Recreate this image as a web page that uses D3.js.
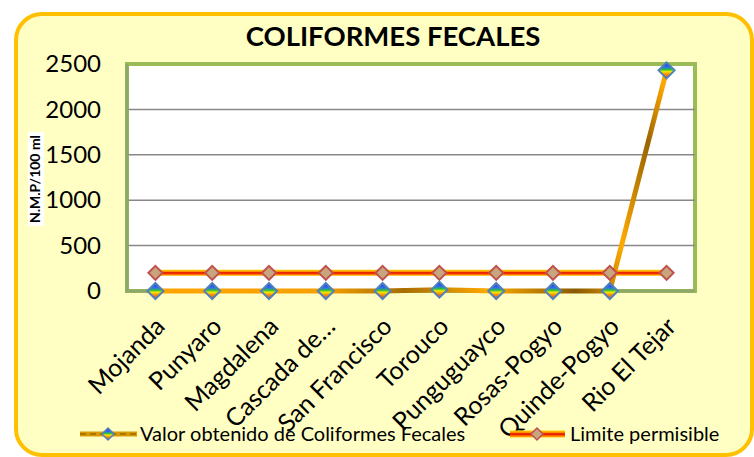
<!DOCTYPE html>
<html>
<head>
<meta charset="utf-8">
<script src="https://cdn.jsdelivr.net/npm/d3@7"></script>
<style>
  body { margin: 0; background: #fff; }
  text { font-family: Lato, "Open Sans", sans-serif; }
</style>
</head>
<body>
<svg id="chart" width="754" height="457"></svg>
<script>
// chart data
const stations = ["Mojanda", "Punyaro", "Magdalena", "Cascada de…", "San Francisco",
  "Torouco", "Punguguayco", "Rosas-Pogyo", "Quinde-Pogyo", "Rio El Tejar"];
const obtained = [0, 0, 0, 0, 0, 15, 0, 0, 0, 2430];
const limit = [200, 200, 200, 200, 200, 200, 200, 200, 200, 200];
const yTicks = [0, 500, 1000, 1500, 2000, 2500];
const seriesNames = ["Valor obtenido de Coliformes Fecales", "Limite permisible"];

const svg = d3.select("#chart");
const defs = svg.append("defs");

// plot area bounds
const plot = { left: 127, top: 64, right: 695, bottom: 291 };

// gradients
const rainbow = defs.append("linearGradient").attr("id", "rainbow")
  .attr("x1", 0).attr("y1", 0).attr("x2", 0).attr("y2", 1);
[["0%", "#2b2bd8"], ["30%", "#2f6df0"], ["45%", "#27c03a"], ["58%", "#f5e800"], ["72%", "#ff9a00"], ["100%", "#e8302a"]]
  .forEach(s => rainbow.append("stop").attr("offset", s[0]).attr("stop-color", s[1]));

const gold = defs.append("linearGradient").attr("id", "gold")
  .attr("gradientUnits", "userSpaceOnUse")
  .attr("x1", 127).attr("y1", 291).attr("x2", 695).attr("y2", 64);
[["0%", "#ffa500"], ["30%", "#f5a000"], ["42%", "#a86d00"], ["55%", "#ffaa00"], ["68%", "#8a5a00"], ["78%", "#ffaa00"], ["88%", "#9a6400"], ["94%", "#ffa800"], ["100%", "#a06a00"]]
  .forEach(s => gold.append("stop").attr("offset", s[0]).attr("stop-color", s[1]));

// chart background
svg.append("rect")
  .attr("x", 16).attr("y", 14).attr("width", 736).attr("height", 441)
  .attr("rx", 26).attr("ry", 26)
  .attr("fill", "#ffffc4").attr("stroke", "#ffc000").attr("stroke-width", 4);

// scales
const x = d3.scaleBand().domain(stations).range([plot.left, plot.right]);
const y = d3.scaleLinear().domain([0, 2500]).range([plot.bottom, plot.top]);

const redStripe = defs.append("linearGradient").attr("id", "redStripe")
  .attr("gradientUnits", "userSpaceOnUse")
  .attr("x1", 0).attr("y1", y(200) - 3.5).attr("x2", 0).attr("y2", y(200) + 3.5);
[["0%", "#ffe000"], ["30%", "#ff9900"], ["50%", "#e00000"], ["70%", "#ff6600"], ["100%", "#ffe000"]]
  .forEach(s => redStripe.append("stop").attr("offset", s[0]).attr("stop-color", s[1]));

const legRed = defs.append("linearGradient").attr("id", "legRed")
  .attr("gradientUnits", "userSpaceOnUse")
  .attr("x1", 0).attr("y1", 430).attr("x2", 0).attr("y2", 438);
[["0%", "#ffe000"], ["30%", "#ff9900"], ["50%", "#e00000"], ["70%", "#ff6600"], ["100%", "#ffe000"]]
  .forEach(s => legRed.append("stop").attr("offset", s[0]).attr("stop-color", s[1]));

// plot area
svg.append("rect")
  .attr("x", plot.left).attr("y", plot.top)
  .attr("width", plot.right - plot.left).attr("height", plot.bottom - plot.top)
  .attr("fill", "#fff").attr("stroke", "#9bbb59").attr("stroke-width", 4);

// gridlines
svg.append("g").selectAll("line")
  .data(yTicks.filter(d => d > 0 && d < 2500))
  .enter().append("line")
  .attr("x1", plot.left).attr("x2", plot.right)
  .attr("y1", d => y(d)).attr("y2", d => y(d))
  .attr("stroke", "#888").attr("stroke-width", 1.5);

// axis lines (left + bottom)
svg.append("path")
  .attr("d", `M${plot.left},${plot.top} V${plot.bottom} H${plot.right}`)
  .attr("fill", "none").attr("stroke", "#8ea86a").attr("stroke-width", 3);

// y axis
const yAxis = svg.append("g")
  .attr("transform", `translate(${plot.left},0)`)
  .call(d3.axisLeft(y).tickValues(yTicks).tickFormat(d3.format("d")).tickSize(0).tickPadding(26));
yAxis.select(".domain").remove();
yAxis.selectAll("text").attr("font-size", 24).attr("fill", "#000")
  .style("font-family", "Lato, sans-serif");

// x axis
const xAxis = svg.append("g")
  .attr("transform", `translate(0,${plot.bottom})`)
  .call(d3.axisBottom(x).tickSize(0));
xAxis.select(".domain").remove();
xAxis.selectAll("text")
  .attr("font-size", 25).attr("fill", "#000")
  .style("font-family", "Lato, sans-serif")
  .attr("text-anchor", "end")
  .attr("dy", 0).attr("y", 0)
  .attr("transform", "translate(11,37) rotate(-45)");

// y label
const yLab = svg.append("g").attr("transform", "translate(40,179) rotate(-90)");
yLab.append("rect").attr("x", -47).attr("y", -12).attr("width", 94).attr("height", 16).attr("fill", "#fff");
yLab.append("text").attr("text-anchor", "middle").attr("font-size", 14).attr("font-weight", "bold")
  .text("N.M.P/100 ml");

// title
svg.append("text")
  .attr("x", 393).attr("y", 46)
  .attr("text-anchor", "middle")
  .attr("font-size", 27.5).attr("font-weight", "bold")
  .text("COLIFORMES FECALES");

const cx = (d, i) => x(stations[i]) + x.bandwidth() / 2;
const line = d3.line().x((d, i) => cx(d, i)).y(d => y(d));

// limit line
svg.append("path").datum(limit)
  .attr("d", line).attr("fill", "none")
  .attr("stroke", "url(#redStripe)").attr("stroke-width", 6);

// obtained line
svg.append("path").datum(obtained)
  .attr("d", line).attr("fill", "none")
  .attr("stroke", "url(#gold)").attr("stroke-width", 5).attr("stroke-linejoin", "round");

const diamond = s => `M0,${-s} L${s},0 L0,${s} L${-s},0 Z`;

svg.append("g").selectAll("path").data(limit).enter().append("path")
  .attr("d", diamond(7))
  .attr("transform", (d, i) => `translate(${cx(d, i)},${y(d)})`)
  .attr("fill", "#c8a57c").attr("stroke", "#c0504d").attr("stroke-width", 2);

svg.append("g").selectAll("path").data(obtained).enter().append("path")
  .attr("d", diamond(8))
  .attr("transform", (d, i) => `translate(${cx(d, i)},${y(d)})`)
  .attr("fill", "url(#rainbow)").attr("stroke", "#4f81bd").attr("stroke-width", 2);

// legend
const leg1 = svg.append("g");
leg1.append("line").attr("x1", 80).attr("x2", 137).attr("y1", 434).attr("y2", 434)
  .attr("stroke", "#d89a00").attr("stroke-width", 5);
leg1.append("line").attr("x1", 80).attr("x2", 137).attr("y1", 434).attr("y2", 434)
  .attr("stroke", "#7a5200").attr("stroke-width", 1).attr("stroke-dasharray", "6,4");
leg1.append("path").attr("d", diamond(6)).attr("transform", "translate(108,434)")
  .attr("fill", "url(#rainbow)").attr("stroke", "#4f81bd").attr("stroke-width", 1.5);
leg1.append("text").attr("x", 140).attr("y", 441).attr("font-size", 20).text(seriesNames[0]);

const leg2 = svg.append("g");
leg2.append("line").attr("x1", 510).attr("x2", 565).attr("y1", 434).attr("y2", 434)
  .attr("stroke", "url(#legRed)").attr("stroke-width", 7);
leg2.append("path").attr("d", diamond(6)).attr("transform", "translate(537,434)")
  .attr("fill", "#c8a57c").attr("stroke", "#c0504d").attr("stroke-width", 1.5);
leg2.append("text").attr("x", 570).attr("y", 441).attr("font-size", 20).text(seriesNames[1]);
</script>
</body>
</html>
